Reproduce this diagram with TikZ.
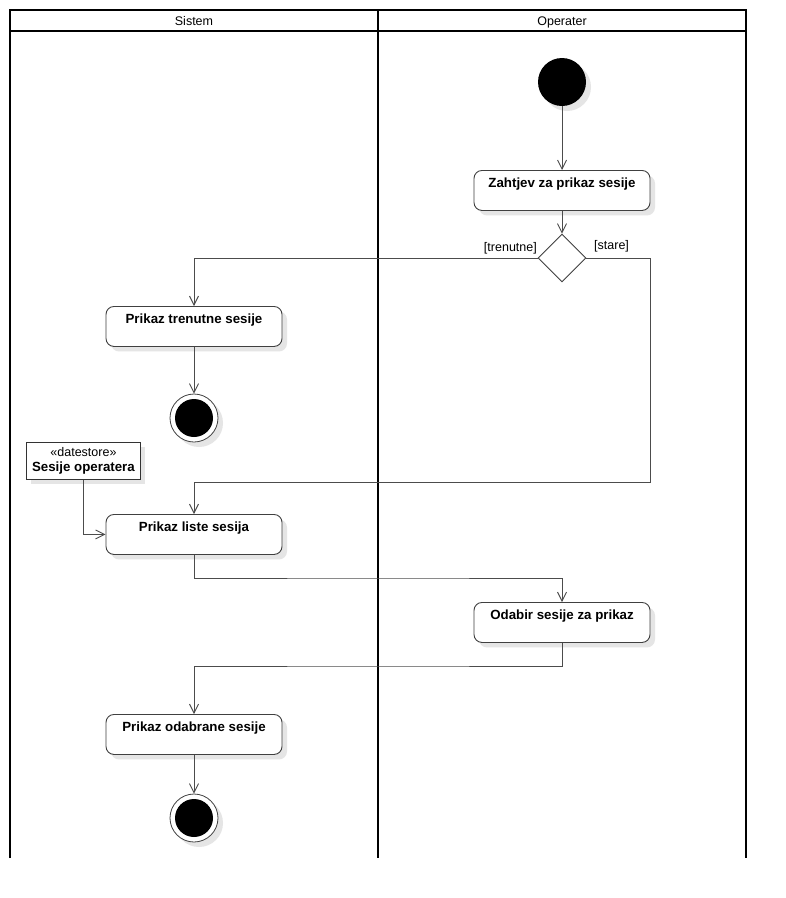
\documentclass[tikz,border=0pt]{standalone}
\usepackage{fontspec}
\setmainfont{Liberation Sans}
\usetikzlibrary{arrows.meta,shapes.geometric}
\tikzset{
  shade/.style={preaction={fill=black!10,transform canvas={shift={(5pt,-5pt)}}}},
  act/.style={draw=black!75,line width=0.9pt,fill=white,rounded corners=8pt,shade,
    minimum width=176pt,inner xsep=0pt,inner ysep=0pt,text height=17pt,text depth=23pt,
    font=\fontsize{13.3}{15}\selectfont\bfseries,anchor=north},
  flow/.style={draw=black!70,line width=0.9pt,-{Straight Barb[length=9pt,width=9pt]}},
  lane/.style={line width=1.8pt,draw=black},
  lbl/.style={font=\fontsize{12.5}{14}\selectfont,inner sep=0pt},
  startnode/.style={circle,fill=black,minimum size=48pt,inner sep=0pt,shade},
  endnode/.style={circle,draw=black!75,line width=0.8pt,fill=white,minimum size=48pt,inner sep=0pt,shade,
    path picture={\fill[black] (path picture bounding box.center) circle (19pt);}},
  dec/.style={diamond,draw=black!75,line width=0.9pt,fill=white,minimum width=48pt,minimum height=48pt,inner sep=0pt,aspect=1},
  store/.style={draw=black!80,line width=0.9pt,fill=white,shade,minimum width=114pt,minimum height=37pt,
    inner sep=0pt,align=center,anchor=north west,font=\fontsize{12.5}{15}\selectfont}
}
\begin{document}
\begin{tikzpicture}[x=1pt,y=-1pt]
\useasboundingbox[fill=white] (0,0) rectangle (786,898);
% swimlanes
\draw[lane] (10,858) -- (10,10) -- (746,10) -- (746,858);
\draw[lane] (10,31) -- (746,31);
\draw[lane] (378,10) -- (378,858);
\node[lbl,anchor=base] (hs) at (194,25) {Sistem};
\node[lbl,anchor=base] (ho) at (562,25) {Operater};
% nodes
\node[startnode] (start) at (562,82) {};
\node[act] (zah) at (562,170) {Zahtjev za prikaz sesije};
\node[dec] (d) at (562,258) {};
\node[lbl,anchor=base east] (lt) at (537,251) {[trenutne]};
\node[lbl,anchor=base west] (ls) at (594,249) {[stare]};
\node[act] (tren) at (194,306) {Prikaz trenutne sesije};
\node[endnode] (e1) at (194,418) {};
\node[store] (ds) at (26,442) {«datestore»\\{\fontsize{13.3}{15}\selectfont\bfseries Sesije operatera}};
\node[act] (list) at (194,514) {Prikaz liste sesija};
\node[act] (odab) at (562,602) {Odabir sesije za prikaz};
\node[act] (odr) at (194,714) {Prikaz odabrane sesije};
\node[endnode] (e2) at (194,818) {};
\coordinate (c1) at (650,482);
\coordinate (m2) at (378,578);
\coordinate (m3) at (378,666);
% edges
\draw[flow] (start) -- (zah);
\draw[flow] (zah) -- (d.north);
\draw[flow] (d.west) -| (tren.north);
\draw[flow] (d.east) -| (c1) -| (list.north);
\draw[flow] (tren) -- (e1);
\draw[flow] (ds.south) |- (list.west);
\draw[flow] (list.south) |- (m2) -| (odab.north);
\draw[flow] (odab.south) |- (m3) -| (odr.north);
\draw[flow] (odr) -- (e2);
\end{tikzpicture}
\end{document}
